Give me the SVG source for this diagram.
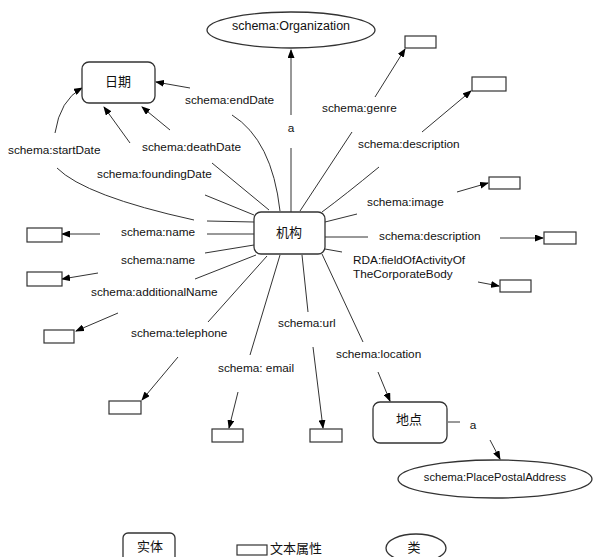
<svg xmlns="http://www.w3.org/2000/svg" width="594" height="557" viewBox="0 0 594 557">
<defs>
<marker id="ah" markerUnits="userSpaceOnUse" markerWidth="9" markerHeight="7" refX="8" refY="3.5" orient="auto">
<path d="M0,0 L9,3.5 L0,7 z" fill="#000"/>
</marker>
<style>
.node{fill:#fff;stroke:#333;stroke-width:1.3}
.lit{fill:#fff;stroke:#333;stroke-width:1.2}
.e{fill:none;stroke:#333;stroke-width:1}
.a{fill:none;stroke:#333;stroke-width:1;marker-end:url(#ah)}
.lb{font-family:"Liberation Sans",Arial,sans-serif;font-size:11.8px;fill:#111}
.zh{font-family:"Noto Sans CJK SC","Liberation Sans",sans-serif;font-size:13px;fill:#111}
</style>
</defs>
<rect width="594" height="557" fill="#fff"/>

<g id="connectors">
<path class="e" d="M291,212 L291,148"/>
<path class="a" d="M291,115 L291,50"/>
<path class="a" d="M190,88 L156,82"/>
<path class="e" d="M232,115 Q272,140 280,211"/>
<path class="a" d="M170,130 L142,107"/>
<path class="e" d="M212,163 L269,210"/>
<path class="a" d="M130,143 L104,107"/>
<path class="e" d="M205,195 L254,215"/>
<path class="a" d="M55,133 Q60,100 82,88"/>
<path class="e" d="M57,168 Q85,196 194,220"/>
<path class="e" d="M207,221 L254,222"/>
<path class="e" d="M207,234 L254,234"/>
<path class="a" d="M100,234 L62,234"/>
<path class="e" d="M205,253 L254,245"/>
<path class="a" d="M98,273 L62,279"/>
<path class="e" d="M195,279 L256,255"/>
<path class="a" d="M118,313 L76,331"/>
<path class="e" d="M208,322 L267,256"/>
<path class="a" d="M178,357 L142,400"/>
<path class="e" d="M250,355 L280,255"/>
<path class="a" d="M238,392 L229,428"/>
<path class="e" d="M308,312 L302,255"/>
<path class="a" d="M313,347 L323,428"/>
<path class="e" d="M363,342 L322,254"/>
<path class="a" d="M378,372 L390,401"/>
<path class="e" d="M352,132 L300,211"/>
<path class="a" d="M375,97 L405,49"/>
<path class="e" d="M379,167 Q345,195 322,212"/>
<path class="a" d="M422,132 L471,91"/>
<path class="e" d="M357,214 L325,222"/>
<path class="a" d="M457,192 L488,183"/>
<path class="e" d="M325,237 L368,237"/>
<path class="a" d="M500,238 L543,238"/>
<path class="e" d="M325,249 L342,252"/>
<path class="a" d="M478,282 L499,286"/>
<path class="e" d="M448,422 L460,422"/>
<path class="a" d="M490,440 L500,459"/>
</g>

<g id="labels">
<text class="lb" x="291" y="132" text-anchor="middle">a</text>
<text class="lb" x="185" y="104">schema:endDate</text>
<text class="lb" x="142" y="151">schema:deathDate</text>
<text class="lb" x="8" y="154">schema:startDate</text>
<text class="lb" x="97" y="178">schema:foundingDate</text>
<text class="lb" x="121" y="236">schema:name</text>
<text class="lb" x="121" y="264">schema:name</text>
<text class="lb" x="91" y="296">schema:additionalName</text>
<text class="lb" x="131" y="337">schema:telephone</text>
<text class="lb" x="218" y="372">schema: email</text>
<text class="lb" x="278" y="327">schema:url</text>
<text class="lb" x="336" y="358">schema:location</text>
<text class="lb" x="322" y="112">schema:genre</text>
<text class="lb" x="358" y="148">schema:description</text>
<text class="lb" x="367" y="206">schema:image</text>
<text class="lb" x="379" y="240">schema:description</text>
<text class="lb" x="353" y="264">RDA:fieldOfActivityOf</text>
<text class="lb" x="353" y="278">TheCorporateBody</text>
<text class="lb" x="473" y="429" text-anchor="middle">a</text>
</g>

<g id="org">
<ellipse class="node" cx="291" cy="30" rx="84" ry="18"/>
<text class="lb" x="291" y="30" text-anchor="middle" style="font-size:12.5px">schema:Organization</text>
</g>
<g id="riqi">
<rect class="node" x="82" y="62" width="73" height="41" rx="7"/>
<text class="zh" x="118" y="86" text-anchor="middle">日期</text>
</g>
<g id="jigou">
<rect class="node" x="254" y="212" width="71" height="42" rx="7"/>
<text class="zh" x="289" y="237" text-anchor="middle">机构</text>
</g>
<g id="didian">
<rect class="node" x="373" y="402" width="74" height="41" rx="7"/>
<text class="zh" x="409" y="424" text-anchor="middle">地点</text>
</g>
<g id="ppa">
<ellipse class="node" cx="495" cy="479" rx="97" ry="19"/>
<text class="lb" x="495" y="481" text-anchor="middle" style="font-size:11.2px">schema:PlacePostalAddress</text>
</g>

<g id="lit-genre"><rect class="lit" x="405" y="36" width="31" height="12"/></g>
<g id="lit-desc1"><rect class="lit" x="472" y="77" width="34" height="14"/></g>
<g id="lit-image"><rect class="lit" x="489" y="177" width="31" height="12"/></g>
<g id="lit-desc2"><rect class="lit" x="544" y="232" width="32" height="12"/></g>
<g id="lit-rda"><rect class="lit" x="500" y="280" width="31" height="12"/></g>
<g id="lit-name1"><rect class="lit" x="27" y="228" width="35" height="14"/></g>
<g id="lit-name2"><rect class="lit" x="27" y="272" width="35" height="14"/></g>
<g id="lit-addl"><rect class="lit" x="44" y="330" width="30" height="13"/></g>
<g id="lit-tel"><rect class="lit" x="109" y="401" width="32" height="13"/></g>
<g id="lit-email"><rect class="lit" x="212" y="429" width="31" height="13"/></g>
<g id="lit-url"><rect class="lit" x="310" y="429" width="32" height="13"/></g>

<g id="legend-entity">
<rect class="node" x="123" y="533" width="52" height="30" rx="5"/>
<text class="zh" x="150" y="551" text-anchor="middle">实体</text>
</g>
<g id="legend-literal">
<rect class="lit" x="237" y="545" width="30" height="10"/>
<text class="zh" x="270" y="553">文本属性</text>
</g>
<g id="legend-class">
<ellipse class="node" cx="416" cy="548" rx="30" ry="14"/>
<text class="zh" x="414" y="552" text-anchor="middle">类</text>
</g>
</svg>
